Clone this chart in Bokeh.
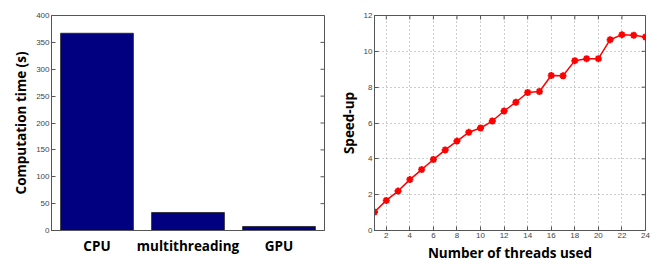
import math
from bokeh.plotting import figure
from bokeh.layouts import row
from bokeh.models import FactorRange, Range1d, FixedTicker, ColumnDataSource
from bokeh.transform import dodge
from bokeh.embed import file_html
from bokeh.resources import INLINE

# ---- data ----
methods = ["CPU", "multithreading", "GPU"]
comp_time = [367, 33.5, 7.5]
time_ticks = [0, 50, 100, 150, 200, 250, 300, 350, 400]

threads = list(range(1, 25))
speedup = [1.03, 1.68, 2.2, 2.84, 3.4, 3.96, 4.5, 4.99, 5.48, 5.72, 6.11, 6.67,
           7.16, 7.7, 7.76, 8.65, 8.64, 9.48, 9.59, 9.59, 10.65, 10.93, 10.9, 10.8]
thread_ticks = [2, 4, 6, 8, 10, 12, 14, 16, 18, 20, 22, 24]
speed_ticks = [0, 2, 4, 6, 8, 10, 12]

LABEL_FONT = "Open Sans"
TICK_FONT = "Liberation Sans"
AX = "#555555"
TXT = "#444444"


def style_axis(ax, tick_in=4):
    ax.axis_line_color = AX
    ax.major_tick_line_color = AX
    ax.major_tick_in = tick_in
    ax.major_tick_out = 0
    ax.minor_tick_line_color = None
    ax.major_label_text_font = TICK_FONT
    ax.major_label_text_font_size = "8px"
    ax.major_label_text_color = TXT
    ax.major_label_standoff = 2
    ax.axis_label_text_font = LABEL_FONT
    ax.axis_label_text_font_style = "bold"
    ax.axis_label_text_font_size = "13.5px"
    ax.axis_label_text_color = "#000000"
    ax.axis_label_standoff = 3


# ---- left: bar chart ----
x1 = FactorRange(*methods, range_padding=0)
y1 = Range1d(0, 400)
p1 = figure(width=336, height=264, x_range=x1,
            y_range=y1, output_backend="svg", toolbar_location=None,
            min_border_left=51, min_border_right=12, min_border_top=15, min_border_bottom=0)
src1 = ColumnDataSource(dict(m=methods, t=comp_time))
p1.vbar(x="m", top="t", width=0.8, source=src1, fill_color="#000080", line_color="#222222", line_width=0.8)
p1.xgrid.grid_line_color = None
p1.ygrid.grid_line_color = None
p1.yaxis.ticker = FixedTicker(ticks=time_ticks)
p1.yaxis.axis_label = "Computation time (s)"
for ax in p1.yaxis:
    style_axis(ax)
for ax in p1.xaxis:
    style_axis(ax, tick_in=0)
    ax.major_label_text_font = LABEL_FONT
    ax.major_label_text_font_style = "bold"
    ax.major_label_text_font_size = "13.5px"
    ax.major_label_text_color = "#000000"
    ax.major_label_standoff = 6
    ax.major_tick_line_color = None
# inward ticks on the right edge (box style)
tick_src1 = ColumnDataSource(dict(x=[methods[-1]] * len(time_ticks), y=time_ticks))
p1.ray(x=dodge("x", 0.5, range=x1), y="y", source=tick_src1, length=4, length_units="screen",
       angle=math.pi, line_color=AX, line_width=1)
p1.outline_line_color = AX

# ---- right: speed-up line chart ----
x2 = Range1d(1, 24)
y2 = Range1d(0, 12)
p2 = figure(width=328, height=264, x_range=x2, y_range=y2,
            output_backend="svg", toolbar_location=None,
            min_border_left=35, min_border_right=19, min_border_top=15, min_border_bottom=0)
p2.line(threads, speedup, line_color="#ff0000", line_width=1.5)
p2.scatter(threads, speedup, marker="asterisk", size=7, line_color="#ff0000", line_width=2)
p2.scatter(threads, speedup, marker="circle", size=3, line_color="#ff0000", fill_color="#ff0000")
p2.xaxis.ticker = FixedTicker(ticks=thread_ticks)
p2.yaxis.ticker = FixedTicker(ticks=speed_ticks)
p2.xaxis.axis_label = "Number of threads used"
p2.yaxis.axis_label = "Speed-up"
for ax in p2.xaxis + p2.yaxis:
    style_axis(ax)
for g in (p2.xgrid, p2.ygrid):
    g.grid_line_color = "#9a9a9a"
    g.grid_line_dash = "1 3"
    g.grid_line_width = 1
# inward ticks on right and top edges (box style)
p2.ray(x=[x2.end] * len(speed_ticks), y=speed_ticks, length=4, length_units="screen",
       angle=math.pi, line_color=AX, line_width=1)
p2.ray(x=thread_ticks, y=[y2.end] * len(thread_ticks), length=4, length_units="screen",
       angle=-math.pi / 2, line_color=AX, line_width=1)
p2.outline_line_color = AX

layout = row(p1, p2)
open("out.html", "w").write(file_html(layout, INLINE))
